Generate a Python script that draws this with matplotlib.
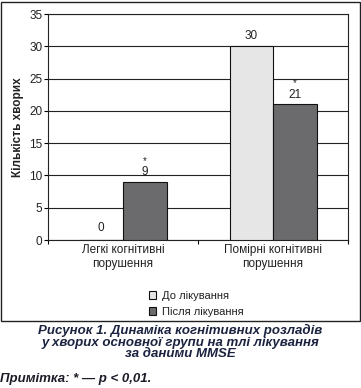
import numpy as np
import matplotlib.pyplot as plt
from matplotlib.patches import Rectangle

plt.rcParams['font.family'] = ['Liberation Sans', 'DejaVu Sans']

categories = ["Легкі когнітивні\nпорушення", "Помірні когнітивні\nпорушення"]
before = [0, 30]
after = [9, 21]
after_marks = ["*", "*"]
series_names = ["До лікування", "Після лікування"]
yticks = [0, 5, 10, 15, 20, 25, 30, 35]

fig = plt.figure(figsize=(3.61, 3.88), dpi=100)
ax = fig.add_axes([0.133, 0.3814, 0.831, 0.5825])

x = np.arange(len(categories))
w = 0.29
b1 = ax.bar(x - w / 2, before, w, color='#e6e6e6', edgecolor='#111111', linewidth=0.8,
            label=series_names[0], zorder=3)
b2 = ax.bar(x + w / 2, after, w, color='#6b6b6d', edgecolor='#111111', linewidth=0.8,
            label=series_names[1], zorder=3)

for xi, v in zip(x - w / 2, before):
    ax.text(xi, v + 0.9 if v == 0 else v + 0.6, str(v), ha='center', va='bottom',
            fontsize=8.5, color='#222222')
for xi, v, m in zip(x + w / 2, after, after_marks):
    ax.text(xi, v + 0.6, str(v), ha='center', va='bottom', fontsize=8.5, color='#222222')
    ax.text(xi, v + 3.3, m, ha='center', va='center', fontsize=7, color='#222222')

ax.set_xlim(-0.5, 1.5)
ax.set_ylim(0, 35)
ax.set_yticks(yticks)
ax.set_xticks([-0.5, 0.5, 1.5])
ax.set_xticklabels([])
ax.set_xticks(x, minor=True)
ax.set_xticklabels(categories, minor=True, fontsize=8.5, color='#222222', linespacing=1.25)
ax.tick_params(axis='x', which='minor', length=0, pad=3)
ax.tick_params(axis='x', which='major', length=3, width=0.8, direction='out')
ax.tick_params(axis='y', length=3, width=0.8, labelsize=8.5, labelcolor='#222222', pad=1)
ax.yaxis.grid(True, color='#222222', linewidth=0.8, zorder=0)
ax.set_axisbelow(True)
for s in ['left', 'bottom', 'right', 'top']:
    ax.spines[s].set_linewidth(0.8)
    ax.spines[s].set_color('#222222')
ax.set_ylabel("Кількість хворих", fontsize=8.5, fontweight='bold', color='#222222', labelpad=4)

leg = fig.legend(handles=[b1, b2], loc='center', bbox_to_anchor=(0.543, 0.217),
                 frameon=False, fontsize=8, handlelength=0.7, handleheight=0.7,
                 handletextpad=0.5, labelspacing=0.55)
for t in leg.get_texts():
    t.set_color('#222222')

# outer frame around chart area
fig.patches.append(Rectangle((0.003, 1 - 321 / 388), 0.994, 320 / 388 - 0.003,
                             transform=fig.transFigure, fill=False,
                             edgecolor='#222222', linewidth=1.0))

fig.text(0.5, 1 - 342 / 388,
         "Рисунок 1. Динаміка когнітивних розладів\nу хворих основної групи на тлі лікування\nза даними MMSE",
         ha='center', va='center', fontsize=9.5, fontweight='bold', fontstyle='italic',
         color='#1c2340', linespacing=0.95)
fig.text(0.0, 1 - 379 / 388, "Примітка: * — p < 0,01.", ha='left', va='center',
         fontsize=9.5, fontweight='bold', fontstyle='italic', color='#1c1c28')

fig.savefig("out.png", dpi=100)
